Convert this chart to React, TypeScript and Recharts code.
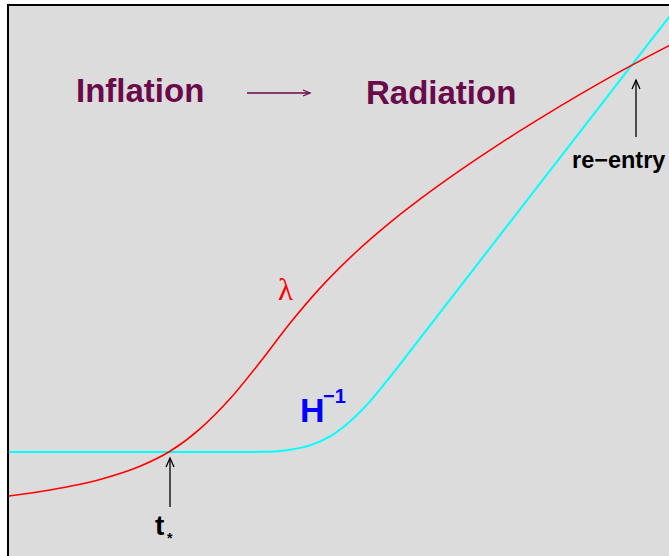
import React from "react";
import { LineChart, Line, XAxis, YAxis, Customized } from "recharts";

// Schematic: horizontal scale = time (arbitrary units 0..100), vertical = log length (0..100)
const lambdaTime = [0, 5.857, 13.0, 18.714, 23.0, 27.286, 31.571, 35.857, 40.143, 44.429, 49.429, 54.429, 58.714, 64.429, 70.143, 75.857, 81.571, 87.286, 94.286, 95.143];
const lambdaLog = [12.5, 13.571, 15.446, 17.804, 20.482, 24.5, 29.857, 36.393, 43.357, 49.625, 55.893, 61.321, 65.5, 70.643, 75.429, 79.929, 84.214, 88.286, 92.929, 93.482];

const hubbleTime = [0, 20.143, 34.429, 37.286, 40.143, 43.0, 45.857, 48.714, 51.571, 54.429, 58.714, 70.143, 84.429, 94.286, 95.143];
const hubbleLog = [20.357, 20.357, 20.375, 20.393, 20.75, 21.536, 23.143, 25.821, 29.393, 33.75, 40.661, 59.089, 82.125, 98.018, 99.393];

const lambdaData = lambdaTime.map((t, i) => ({ t, v: lambdaLog[i] }));
const hubbleData = hubbleTime.map((t, i) => ({ t, v: hubbleLog[i] }));

const PURPLE = "#6a0a4b";
const SANS = "'Liberation Sans', Arial, sans-serif";

const Annotations = () => (
  <g>
    <text x={67} y={96} fontFamily={SANS} fontWeight="bold" fontSize={33} fill={PURPLE}>Inflation</text>
    <line x1={238} y1={87} x2={301} y2={87} stroke={PURPLE} strokeWidth={1.3} />
    <polyline points="294,84 301,87 294,90" fill="none" stroke={PURPLE} strokeWidth={1.3} />
    <text x={357} y={98} fontFamily={SANS} fontWeight="bold" fontSize={33} fill={PURPLE}>Radiation</text>

    <text x={269} y={294} fontFamily="'Liberation Serif', 'DejaVu Serif', serif" fontSize={31} fill="#ff0000">λ</text>

    <text x={291} y={416} fontFamily={SANS} fontWeight="bold" fontSize={34} fill="#0000ff">H</text>
    <text x={314} y={397} fontFamily={SANS} fontWeight="bold" fontSize={20} fill="#0000ff">−1</text>

    <line x1={161} y1={501} x2={161} y2={452} stroke="#000" strokeWidth={1.3} />
    <polyline points="157,461 161,452 165,461" fill="none" stroke="#000" strokeWidth={1.3} />
    <text x={146} y={529} fontFamily={SANS} fontWeight="bold" fontSize={28} fill="#000">t</text>
    <text x={158} y={537} fontFamily={SANS} fontWeight="bold" fontSize={14} fill="#000">*</text>

    <line x1={627} y1={131} x2={627} y2={74} stroke="#000" strokeWidth={1.3} />
    <polyline points="623,83 627,74 631,83" fill="none" stroke="#000" strokeWidth={1.3} />
    <text x={563} y={162} fontFamily={SANS} fontWeight="bold" fontSize={23.5} fill="#000">re−entry</text>
  </g>
);

export default function App() {
  return (
    <div style={{ position: "fixed", left: 0, top: 0, width: 669, height: 556, overflow: "hidden", background: "#fff" }}>
      <div
        style={{
          position: "absolute",
          left: 7,
          top: 4,
          width: 700,
          height: 560,
          borderLeft: "2px solid #000",
          borderTop: "2px solid #000",
          background: "#dcdcdc",
        }}
      >
        <LineChart width={700} height={560} margin={{ top: 0, right: 0, bottom: 0, left: 0 }}>
          <XAxis dataKey="t" type="number" domain={[0, 100]} hide allowDataOverflow />
          <YAxis dataKey="v" type="number" domain={[0, 100]} hide allowDataOverflow />
          <Line data={hubbleData} dataKey="v" type="monotone" stroke="#00ffff" strokeWidth={2} dot={false} isAnimationActive={false} />
          <Line data={lambdaData} dataKey="v" type="monotone" stroke="#ff0000" strokeWidth={1.6} dot={false} isAnimationActive={false} />
          <Customized component={Annotations} />
        </LineChart>
      </div>
    </div>
  );
}
